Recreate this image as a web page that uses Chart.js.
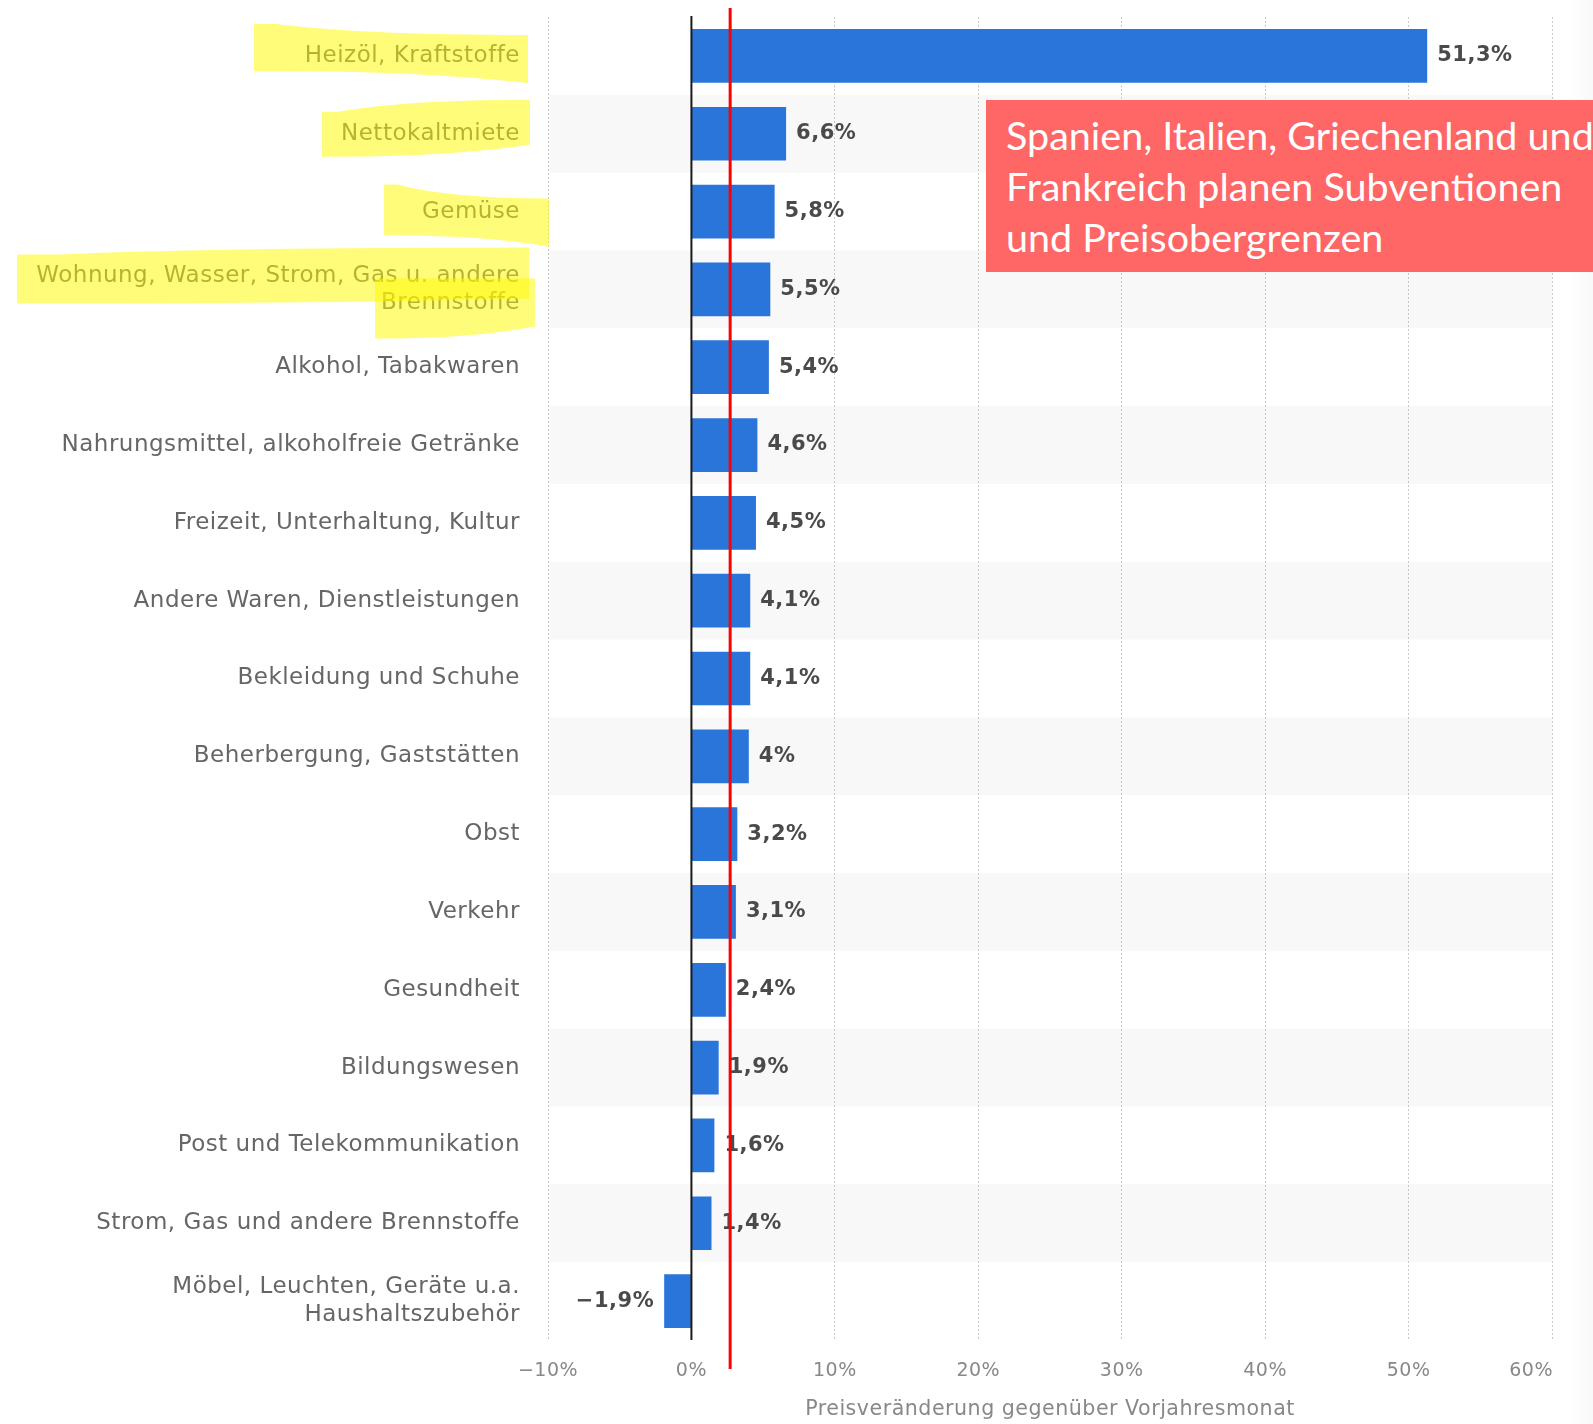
<!DOCTYPE html>
<html lang="de">
<head>
<meta charset="utf-8">
<title>Preisveränderung gegenüber Vorjahresmonat</title>
<script src="https://cdn.jsdelivr.net/npm/chart.js@4.4.1/dist/chart.umd.min.js"></script>
<style>
  html, body { margin: 0; padding: 0; background: #fff; }
  #wrap { position: relative; width: 1593px; height: 1424px; overflow: hidden; }
  #priceChart { position: absolute; left: 0; top: 0; }
  .edge {
    position: absolute; right: 0; top: 0; width: 30px; height: 100%;
    background: linear-gradient(to right, rgba(240,240,240,0), rgba(238,238,238,0.35));
    pointer-events: none;
  }
  .note {
    position: absolute; left: 986px; top: 100px; width: 700px; height: 172px;
    box-sizing: border-box; padding: 9px 0 0 20px;
    background: #ff6666; color: #fff;
    font-family: Lato, "Open Sans", sans-serif; font-size: 39.5px; line-height: 51px;
    white-space: nowrap;
  }
</style>
</head>
<body>
<div id="wrap">
  <canvas id="priceChart" width="1593" height="1424"></canvas>
  <div class="edge"></div>
  <div class="note">Spanien, Italien, Griechenland und<br>Frankreich planen Subventionen<br>und Preisobergrenzen</div>
</div>
<script>
// Categories and year-on-year price change in percent
const categories = [
    'Heizöl, Kraftstoffe',
    'Nettokaltmiete',
    'Gemüse',
    ['Wohnung, Wasser, Strom, Gas u. andere', 'Brennstoffe'],
    'Alkohol, Tabakwaren',
    'Nahrungsmittel, alkoholfreie Getränke',
    'Freizeit, Unterhaltung, Kultur',
    'Andere Waren, Dienstleistungen',
    'Bekleidung und Schuhe',
    'Beherbergung, Gaststätten',
    'Obst',
    'Verkehr',
    'Gesundheit',
    'Bildungswesen',
    'Post und Telekommunikation',
    'Strom, Gas und andere Brennstoffe',
    ['Möbel, Leuchten, Geräte u.a.', 'Haushaltszubehör']
];
const changes = [51.3, 6.6, 5.8, 5.5, 5.4, 4.6, 4.5, 4.1, 4.1, 4, 3.2, 3.1, 2.4, 1.9, 1.6, 1.4, -1.9];
const xTicks = [-10, 0, 10, 20, 30, 40, 50, 60];
const markerValue = 2.7;

// Highlighter strokes behind some labels (offsets relative to the label column edge and row centre)
const strokes = [
    { row: 0, from: -294, to: -20, top: [-32, -21], bottom: [15, 27] },
    { row: 1, from: -226, to: -18, top: [-22, -34], bottom: [23, 11] },
    { row: 2, from: -164, to: 1, top: [-27, -13], bottom: [24, 35] },
    { row: 3, from: -531, to: -19, top: [-35, -42], bottom: [14, 9] },
    { row: 3, from: -173, to: -13, top: [-11, -11], bottom: [49, 37] }
];

const FONT = '"DejaVu Sans", sans-serif';
const TICK_SIZE = 19;
const TICK_PAD = 20;
const SPACING = '0.5px';

function formatPct(v) {
    return (v < 0 ? '\u2212' : '') + String(Math.abs(v)).replace('.', ',') + '%';
}

const rowShading = {
    id: 'rowShading',
    beforeLayout(chart) {
        chart.ctx.letterSpacing = SPACING;
    },
    beforeDraw(chart) {
        const { ctx, chartArea, scales: { y } } = chart;
        ctx.letterSpacing = SPACING;
        const band = y.getPixelForValue(1) - y.getPixelForValue(0);
        ctx.save();
        ctx.fillStyle = '#f8f8f8';
        categories.forEach((c, i) => {
            if (i % 2 === 1) {
                const cy = y.getPixelForValue(i);
                ctx.fillRect(chartArea.left, cy - band / 2, chartArea.right - chartArea.left, band);
            }
        });
        ctx.restore();
    }
};

const valueLabels = {
    id: 'valueLabels',
    afterDatasetsDraw(chart) {
        const { ctx, chartArea, scales: { x } } = chart;
        const x0 = x.getPixelForValue(0);
        ctx.save();
        // zero line on top of the bars
        ctx.strokeStyle = '#1a1a1a';
        ctx.lineWidth = 2;
        ctx.beginPath();
        ctx.moveTo(x0, chartArea.top - 1);
        ctx.lineTo(x0, chartArea.bottom);
        ctx.stroke();

        ctx.font = 'bold 21px ' + FONT;
        ctx.fillStyle = '#4a4a4a';
        ctx.textBaseline = 'middle';
        chart.getDatasetMeta(0).data.forEach((bar, i) => {
            const v = changes[i];
            if (v >= 0) {
                ctx.textAlign = 'left';
                ctx.fillText(formatPct(v), bar.x + 10, bar.y);
            } else {
                ctx.textAlign = 'right';
                ctx.fillText(formatPct(v), bar.x - 10, bar.y);
            }
        });
        ctx.restore();
    }
};

const overlay = {
    id: 'overlay',
    afterDraw(chart) {
        const { ctx, chartArea, scales: { x, y } } = chart;
        ctx.save();

        // yellow marker strokes over the labels
        ctx.fillStyle = 'rgba(255, 250, 0, 0.52)';
        strokes.forEach(s => {
            const cy = y.getPixelForValue(s.row);
            const l = y.right + s.from;
            const r = y.right + s.to;
            const w = r - l;
            ctx.beginPath();
            ctx.moveTo(l, cy + s.top[0]);
            ctx.lineTo(l + w * 0.08, cy + s.top[0]);
            ctx.quadraticCurveTo(l + w * 0.4, cy + s.top[1], r, cy + s.top[1]);
            ctx.lineTo(r, cy + s.bottom[1]);
            ctx.quadraticCurveTo(l + w * 0.6, cy + s.bottom[0], l + w * 0.08, cy + s.bottom[0]);
            ctx.lineTo(l, cy + s.bottom[0]);
            ctx.closePath();
            ctx.fill();
        });

        // last x tick label kept inside the plot
        const last = xTicks[xTicks.length - 1];
        ctx.font = TICK_SIZE + 'px ' + FONT;
        ctx.fillStyle = '#888';
        ctx.textAlign = 'right';
        ctx.textBaseline = 'middle';
        ctx.fillText(formatPct(last), x.getPixelForValue(last) + 1, x.top + TICK_PAD + TICK_SIZE * 0.6);

        // red reference line
        const mx = x.getPixelForValue(markerValue);
        ctx.strokeStyle = '#ff0000';
        ctx.lineWidth = 3;
        ctx.beginPath();
        ctx.moveTo(mx, chartArea.top - 9);
        ctx.lineTo(mx, chartArea.bottom + 29);
        ctx.stroke();
        ctx.restore();
    }
};

Chart.defaults.font.family = FONT;

const ctx = document.getElementById('priceChart').getContext('2d');
new Chart(ctx, {
    type: 'bar',
    data: {
        labels: categories,
        datasets: [{
            data: changes,
            backgroundColor: '#2a75da',
            barPercentage: 0.69,
            categoryPercentage: 1
        }]
    },
    options: {
        indexAxis: 'y',
        responsive: false,
        devicePixelRatio: 1,
        animation: false,
        layout: { padding: { top: 17, right: 41, left: 0, bottom: 0 } },
        plugins: {
            legend: { display: false },
            tooltip: { enabled: false }
        },
        scales: {
            x: {
                min: xTicks[0],
                max: xTicks[xTicks.length - 1],
                ticks: {
                    stepSize: 10,
                    padding: TICK_PAD,
                    maxRotation: 0,
                    font: { size: TICK_SIZE },
                    color: c => (c.tick && c.tick.value === xTicks[xTicks.length - 1]) ? 'rgba(0,0,0,0)' : '#888',
                    callback: v => formatPct(v)
                },
                grid: { color: '#c8c8c8', lineWidth: 1, drawTicks: false },
                border: { display: false, dash: [2, 2] },
                title: {
                    display: true,
                    text: 'Preisveränderung gegenüber Vorjahresmonat',
                    color: '#888',
                    font: { size: 20.6 },
                    padding: { top: 0, bottom: 2 }
                },
                afterFit(scale) {
                    scale.height = 84;
                    scale.paddingLeft = 0;
                    scale.paddingRight = 0;
                }
            },
            y: {
                grid: { display: false },
                border: { display: false },
                ticks: {
                    padding: 20,
                    autoSkip: false,
                    color: '#666',
                    font: { size: 23, lineHeight: 1.2 }
                },
                afterFit(scale) {
                    scale.width = 548;
                    scale.paddingTop = 0;
                    scale.paddingBottom = 0;
                }
            }
        }
    },
    plugins: [rowShading, valueLabels, overlay]
});
</script>
</body>
</html>
